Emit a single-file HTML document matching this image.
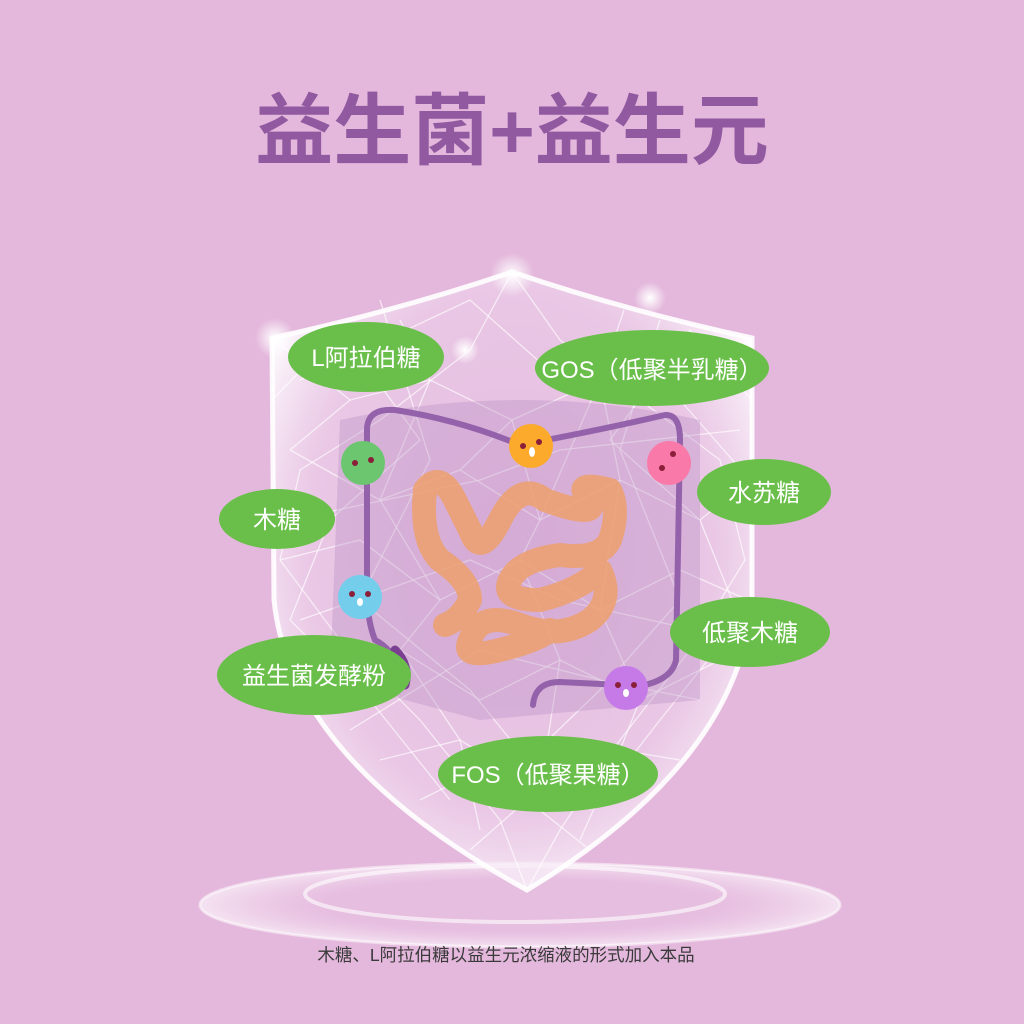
<!DOCTYPE html>
<html><head><meta charset="utf-8"><style>
html,body{margin:0;padding:0;background:#e4b8dc;}
svg{display:block}
text{font-family:"Liberation Sans","Noto Sans CJK SC",sans-serif;}
</style></head><body>
<svg width="1024" height="1024" viewBox="0 0 1024 1024" xmlns="http://www.w3.org/2000/svg">
<defs>
<radialGradient id="sh" cx="50%" cy="45%" r="60%">
<stop offset="0" stop-color="#e6c3e4" stop-opacity="0.4"/>
<stop offset="0.7" stop-color="#efd6ee" stop-opacity="0.5"/>
<stop offset="1" stop-color="#ffffff" stop-opacity="0.95"/>
</radialGradient>
<radialGradient id="glow"><stop offset="0" stop-color="#fff" stop-opacity="1"/><stop offset="1" stop-color="#fff" stop-opacity="0"/></radialGradient>
<radialGradient id="ring" cx="50%" cy="50%" r="50%"><stop offset="0.6" stop-color="#f0d4ee" stop-opacity="0.2"/><stop offset="1" stop-color="#fff" stop-opacity="0.6"/></radialGradient>
</defs>
<rect width="1024" height="1024" fill="#e4b8dc"/>
<text x="512" y="158" font-size="78" font-weight="bold" fill="#9159a0" text-anchor="middle">益生菌+益生元</text>

<!-- rings -->
<ellipse cx="520" cy="905" rx="320" ry="42" fill="url(#ring)" stroke="#fff" stroke-opacity="0.5" stroke-width="3"/>
<ellipse cx="515" cy="894" rx="210" ry="28" fill="none" stroke="#fff" stroke-opacity="0.6" stroke-width="4"/>

<!-- shield -->
<path d="M272 338 Q400 310 512 272 Q624 310 752 338 L752 600 Q740 760 527 890 Q290 760 274 600 Z" fill="url(#sh)" stroke="#fff" stroke-width="5" stroke-opacity="0.9"/>
<g stroke="#fff" stroke-opacity="0.65" stroke-width="1.3" fill="none">
<path d="M512 272 L470 350 L380 420 L300 470 L280 560 L340 640 L420 720 L500 820 L527 890"/>
<path d="M512 272 L560 340 L640 400 L720 460 L745 560 L690 650 L620 740 L560 830 L527 890"/>
<path d="M272 338 L350 400 L430 380 L512 420 L600 380 L680 400 L752 338"/>
<path d="M290 450 L380 500 L460 470 L540 520 L620 480 L700 520 L750 480"/>
<path d="M280 560 L360 540 L440 600 L520 560 L600 610 L680 570 L748 600"/>
<path d="M320 680 L400 650 L480 700 L560 660 L640 700 L720 660"/>
<path d="M380 760 L460 740 L540 790 L620 750 L680 760"/>
<path d="M400 320 L430 380 L380 500 L440 600 L400 650 L460 740 L480 830"/>
<path d="M624 310 L600 380 L620 480 L600 610 L640 700 L620 750 L580 840"/>
<path d="M512 420 L540 520 L520 560 L560 660 L540 790"/>
<path d="M350 400 L290 450 M680 400 L750 480 M460 470 L512 420 M540 520 L600 380"/>
<path d="M272 400 L340 330 L420 440 L330 520 L290 620 L370 700 L450 800"/>
<path d="M752 400 L690 330 L610 440 L700 520 L740 620 L660 720 L590 810"/>
<path d="M300 380 L470 300 L560 380 L720 360 M290 520 L480 480 L560 450 L740 430"/>
<path d="M300 620 L470 560 L560 600 L740 640 M350 730 L480 650 L600 680 L700 700"/>
<path d="M420 800 L500 760 L610 800 M470 850 L527 800 L590 850"/>
<path d="M380 300 L430 460 L360 600 L470 690 L527 760 L600 690 L680 600 L620 450 L660 320"/>
</g>
<circle cx="512" cy="275" r="22" fill="url(#glow)"/>
<circle cx="275" cy="338" r="20" fill="url(#glow)"/>
<circle cx="650" cy="298" r="16" fill="url(#glow)"/>
<circle cx="465" cy="350" r="14" fill="url(#glow)"/>

<!-- colon shadow -->
<path d="M340 420 Q520 380 700 420 L700 700 L480 720 L330 680 Z" fill="#b88cc4" fill-opacity="0.35"/>
<!-- colon -->
<path d="M402 678 Q395 650 375 640 Q367 620 367 590 L367 430 Q367 408 395 410 Q460 420 520 445 Q600 430 665 415 Q680 414 680 440 L676 660 Q672 680 640 686 L560 682 Q535 682 533 705" fill="none" stroke="#9462aa" stroke-width="6" stroke-linecap="round"/>
<path d="M395 650 Q410 665 405 685" fill="none" stroke="#7b3f92" stroke-width="9" stroke-linecap="round"/>

<!-- small intestine -->
<path d="M425 490 Q440 470 455 500 L470 530 Q480 560 500 520 Q520 480 545 500 Q600 520 590 500 Q570 480 610 490 Q620 510 610 540 Q600 560 560 555 Q520 560 510 580 Q500 600 540 600 Q580 590 600 570 Q615 600 590 620 Q560 640 520 625 Q480 610 470 640 Q460 660 500 650 Q540 640 550 630 M425 490 Q420 540 440 560 Q470 580 470 600 Q460 620 445 625" fill="none" stroke="#eda06d" stroke-opacity="0.85" stroke-width="24" stroke-linecap="round" stroke-linejoin="round"/>

<!-- bacteria -->
<g>
<circle cx="363" cy="463" r="22" fill="#6cc670"/>
<circle cx="531" cy="446" r="22" fill="#fbaa2c"/>
<circle cx="669" cy="463" r="22" fill="#f97aa8"/>
<circle cx="360" cy="597" r="22" fill="#74cdea"/>
<circle cx="626" cy="688" r="22" fill="#c67ae8"/>
</g>
<g fill="#8a1f3a">
<circle cx="355" cy="463" r="3"/><circle cx="371" cy="460" r="3"/>
<circle cx="523" cy="446" r="3"/><circle cx="539" cy="442" r="3"/>
<circle cx="662" cy="468" r="3"/><circle cx="673" cy="454" r="3"/>
<circle cx="352" cy="594" r="3"/><circle cx="368" cy="594" r="3"/>
<circle cx="618" cy="685" r="3"/><circle cx="634" cy="685" r="3"/>
</g>
<g fill="#fff"><ellipse cx="532" cy="452" rx="3" ry="5"/><ellipse cx="360" cy="602" rx="3" ry="4"/><ellipse cx="626" cy="693" rx="3" ry="4"/></g>

<!-- labels -->
<g fill="#6abf4b">
<ellipse cx="366" cy="357" rx="78" ry="35"/>
<ellipse cx="652" cy="368" rx="117" ry="38"/>
<ellipse cx="764" cy="492" rx="67" ry="33"/>
<ellipse cx="277" cy="519" rx="58" ry="30"/>
<ellipse cx="750" cy="632" rx="80" ry="35"/>
<ellipse cx="314" cy="675" rx="97" ry="40"/>
<ellipse cx="548" cy="774" rx="110" ry="38"/>
</g>
<g fill="#fff" font-size="24" text-anchor="middle">
<text x="366" y="366">L阿拉伯糖</text>
<text x="652" y="378">GOS（低聚半乳糖）</text>
<text x="764" y="501">水苏糖</text>
<text x="277" y="528">木糖</text>
<text x="750" y="641">低聚木糖</text>
<text x="314" y="684">益生菌发酵粉</text>
<text x="548" y="783">FOS（低聚果糖）</text>
</g>
<text x="506" y="961" font-size="17.5" fill="#3a3a3a" text-anchor="middle">木糖、L阿拉伯糖以益生元浓缩液的形式加入本品</text>
</svg>
</body></html>
